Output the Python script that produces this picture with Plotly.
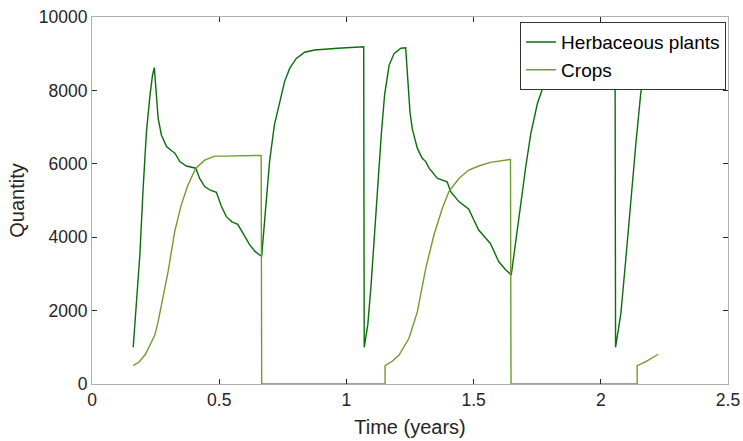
import plotly.graph_objects as go

herb_t = [0.162, 0.175, 0.188, 0.201, 0.214, 0.228, 0.238, 0.245, 0.254, 0.260,
          0.273, 0.293, 0.310, 0.326, 0.345, 0.371, 0.408, 0.423, 0.443, 0.465,
          0.489, 0.508, 0.528, 0.550, 0.573, 0.594, 0.620, 0.640, 0.658, 0.667,
          0.678, 0.698, 0.717, 0.737, 0.757, 0.777, 0.803, 0.836, 0.875, 0.966,
          1.068, 1.070, 1.084, 1.097, 1.110, 1.124, 1.137, 1.150, 1.168, 1.188,
          1.214, 1.233, 1.242, 1.250, 1.259, 1.279, 1.298, 1.312, 1.325, 1.358,
          1.396, 1.410, 1.442, 1.481, 1.501, 1.520, 1.548, 1.566, 1.599, 1.625,
          1.648, 1.666, 1.685, 1.705, 1.725, 1.751, 1.778, 1.797, 1.850, 1.900,
          1.950, 2.000, 2.056, 2.058, 2.079, 2.098, 2.118, 2.138, 2.157, 2.170,
          2.195, 2.226]
herb_q = [1000, 2150, 3510, 5330, 6870, 7870, 8420, 8620, 7780, 7240,
          6780, 6470, 6370, 6290, 6060, 5940, 5880, 5600, 5380, 5280,
          5225, 4850, 4560, 4420, 4350, 4100, 3790, 3620, 3515, 3490,
          4450, 6060, 7060, 7690, 8240, 8600, 8870, 9040, 9100, 9150,
          9190, 1000, 1610, 2700, 4060, 5420, 6780, 7870, 8690, 9010,
          9150, 9160, 8150, 7400, 6950, 6420, 6150, 6060, 5880, 5600,
          5510, 5240, 4970, 4760, 4470, 4195, 3970, 3830, 3330, 3120,
          2970, 3920, 4920, 5920, 6830, 7650, 8190, 8480, 8870, 9040,
          9100, 9130, 9150, 1000, 1930, 3380, 5010, 6560, 7920, 8480,
          8900, 9080]

crop_t = [0.162, 0.185, 0.210, 0.228, 0.247, 0.260, 0.273, 0.299, 0.325, 0.351,
          0.377, 0.408, 0.443, 0.482, 0.521, 0.600, 0.665, 0.667, 1.152, 1.152,
          1.180, 1.207, 1.246, 1.279, 1.312, 1.344, 1.377, 1.403, 1.442, 1.481,
          1.520, 1.566, 1.645, 1.647, 2.143, 2.143, 2.177, 2.226]
crop_q = [500, 600, 810, 1050, 1335, 1700, 2150, 3060, 4150, 4880,
          5420, 5880, 6100, 6210, 6210, 6220, 6230, 0, 0, 500,
          620, 790, 1245, 1970, 3150, 4060, 4790, 5240, 5600, 5830,
          5940, 6040, 6120, 0, 0, 500, 610, 810]

x_ticks = [0, 0.5, 1, 1.5, 2, 2.5]
x_labels = ["0", "0.5", "1", "1.5", "2", "2.5"]
y_ticks = [0, 2000, 4000, 6000, 8000, 10000]
y_labels = ["0", "2000", "4000", "6000", "8000", "10000"]

font = "Liberation Sans, Arial, sans-serif"

fig = go.Figure()
fig.add_trace(go.Scatter(x=herb_t, y=herb_q, mode="lines", name="Herbaceous plants",
                         line=dict(color="#0a6e0a", width=1.4)))
fig.add_trace(go.Scatter(x=crop_t, y=crop_q, mode="lines", name="Crops",
                         line=dict(color="#729c2c", width=1.4)))

axis_common = dict(showgrid=False, zeroline=False, showline=True, linecolor="#b0b0b0",
                   linewidth=1, mirror="allticks", ticks="inside", ticklen=5,
                   tickcolor="#262626", tickwidth=1, automargin=False,
                   tickfont=dict(family=font, size=17.5, color="#262626"))

fig.update_xaxes(range=[0, 2.5], tickvals=x_ticks, ticktext=x_labels,
                 title=dict(text="Time (years)", font=dict(family=font, size=20, color="#262626"),
                            standoff=10),
                 **axis_common)
fig.update_yaxes(range=[0, 10000], tickvals=y_ticks, ticktext=y_labels,
                 title=dict(text="Quantity", font=dict(family=font, size=20, color="#262626"),
                            standoff=8),
                 **axis_common)

fig.update_layout(
    width=743, height=441,
    margin=dict(l=92, r=15, t=17, b=57),
    paper_bgcolor="white", plot_bgcolor="white",
    showlegend=True,
    legend=dict(x=0.997, y=0.986, xanchor="right", yanchor="top",
                bgcolor="white", bordercolor="#333333", borderwidth=1,
                font=dict(family=font, size=19, color="black"),
                itemwidth=30, tracegroupgap=0),
)

fig.write_html("out.html")
